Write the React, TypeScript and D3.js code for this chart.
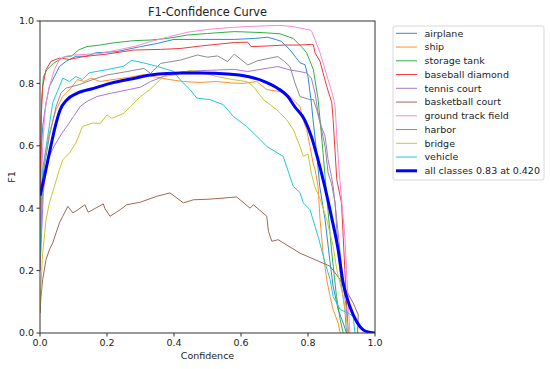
import React from "react"
import * as d3 from "d3"

type Pt = [number, number]

const classNames = [
	"airplane",
	"ship",
	"storage tank",
	"baseball diamond",
	"tennis court",
	"basketball court",
	"ground track field",
	"harbor",
	"bridge",
	"vehicle",
]
// tab10, a bit lighter like the resized reference
const classColors = ["#2f8ad0", "#ff9030", "#30b040", "#f03838", "#a678d8", "#a06858", "#f88ad4", "#8c8c8c", "#c8c830", "#20c8dc"]

const airplane: Pt[] = [[0,0.3],[0.003,0.577],[0.008,0.662],[0.018,0.737],[0.028,0.79],[0.043,0.822],[0.058,0.854],[0.078,0.871],[0.107,0.887],[0.137,0.887],[0.167,0.898],[0.23,0.902],[0.3,0.918],[0.35,0.928],[0.4,0.941],[0.48,0.941],[0.58,0.941],[0.64,0.944],[0.68,0.948],[0.706,0.94],[0.72,0.935],[0.746,0.908],[0.776,0.866],[0.791,0.86],[0.8,0.822],[0.81,0.738],[0.815,0.684],[0.826,0.577],[0.835,0.47],[0.851,0.363],[0.866,0.225],[0.875,0.15],[0.89,0.075],[0.905,0.032],[0.915,0]]
const ship: Pt[] = [[0,0.2],[0.005,0.4],[0.013,0.555],[0.028,0.641],[0.048,0.716],[0.068,0.758],[0.088,0.78],[0.112,0.812],[0.132,0.806],[0.152,0.817],[0.179,0.806],[0.229,0.814],[0.269,0.82],[0.308,0.828],[0.348,0.82],[0.388,0.812],[0.428,0.806],[0.478,0.803],[0.527,0.806],[0.577,0.801],[0.607,0.8],[0.647,0.806],[0.677,0.78],[0.716,0.774],[0.746,0.758],[0.776,0.726],[0.785,0.684],[0.796,0.652],[0.806,0.598],[0.815,0.545],[0.821,0.524],[0.83,0.47],[0.836,0.363],[0.845,0.257],[0.856,0.171],[0.866,0.117],[0.875,0.075],[0.89,0.032],[0.896,0]]
const storageTank: Pt[] = [[0,0.3],[0.005,0.747],[0.01,0.82],[0.02,0.843],[0.04,0.864],[0.07,0.884],[0.095,0.888],[0.115,0.907],[0.14,0.918],[0.18,0.923],[0.22,0.93],[0.28,0.937],[0.33,0.939],[0.38,0.944],[0.44,0.955],[0.5,0.96],[0.58,0.966],[0.66,0.963],[0.716,0.959],[0.756,0.944],[0.78,0.918],[0.796,0.898],[0.816,0.844],[0.83,0.75],[0.836,0.683],[0.845,0.577],[0.855,0.45],[0.871,0.257],[0.885,0.117],[0.896,0.043],[0.905,0]]
const baseballDiamond: Pt[] = [[0,0.4],[0.003,0.684],[0.008,0.79],[0.018,0.844],[0.033,0.871],[0.058,0.881],[0.088,0.877],[0.13,0.886],[0.2,0.894],[0.28,0.907],[0.36,0.909],[0.42,0.912],[0.48,0.92],[0.58,0.931],[0.62,0.932],[0.63,0.918],[0.68,0.92],[0.73,0.923],[0.776,0.923],[0.81,0.925],[0.816,0.924],[0.821,0.898],[0.836,0.87],[0.845,0.834],[0.856,0.79],[0.871,0.738],[0.875,0.684],[0.881,0.577],[0.886,0.491],[0.9,0.417],[0.905,0.31],[0.91,0.203],[0.915,0.096],[0.92,0]]
const tennisCourt: Pt[] = [[0,0.2],[0.01,0.45],[0.02,0.55],[0.043,0.6],[0.065,0.64],[0.08,0.662],[0.1,0.694],[0.12,0.726],[0.14,0.742],[0.17,0.758],[0.21,0.768],[0.26,0.779],[0.3,0.788],[0.33,0.806],[0.38,0.827],[0.43,0.838],[0.48,0.841],[0.53,0.843],[0.58,0.845],[0.62,0.838],[0.68,0.849],[0.71,0.854],[0.746,0.843],[0.776,0.838],[0.796,0.833],[0.81,0.817],[0.821,0.769],[0.83,0.706],[0.84,0.662],[0.851,0.63],[0.86,0.555],[0.87,0.502],[0.875,0.47],[0.886,0.363],[0.896,0.257],[0.905,0.15],[0.915,0.075],[0.92,0]]
const basketballCourt: Pt[] = [[0,0.064],[0.003,0.117],[0.008,0.171],[0.018,0.235],[0.028,0.267],[0.038,0.289],[0.048,0.321],[0.058,0.353],[0.068,0.374],[0.083,0.406],[0.098,0.385],[0.113,0.395],[0.134,0.411],[0.144,0.387],[0.189,0.414],[0.194,0.398],[0.209,0.374],[0.239,0.395],[0.259,0.411],[0.299,0.419],[0.348,0.438],[0.388,0.449],[0.428,0.417],[0.458,0.427],[0.507,0.429],[0.587,0.436],[0.627,0.4],[0.637,0.411],[0.677,0.374],[0.682,0.326],[0.692,0.294],[0.711,0.299],[0.776,0.256],[0.866,0.214],[0.896,0.171],[0.935,0.096],[0.95,0.058],[0.948,0]]
const groundTrackField: Pt[] = [[0,0.3],[0.008,0.598],[0.013,0.684],[0.018,0.737],[0.028,0.79],[0.043,0.844],[0.058,0.876],[0.078,0.887],[0.1,0.891],[0.18,0.896],[0.23,0.907],[0.28,0.918],[0.33,0.934],[0.38,0.948],[0.44,0.964],[0.5,0.973],[0.58,0.98],[0.66,0.984],[0.716,0.986],[0.756,0.982],[0.806,0.971],[0.811,0.967],[0.821,0.94],[0.836,0.898],[0.845,0.866],[0.86,0.812],[0.875,0.758],[0.881,0.726],[0.886,0.63],[0.893,0.52],[0.9,0.43],[0.91,0.31],[0.915,0.2],[0.92,0.1],[0.925,0]]
const harbor: Pt[] = [[0,0.25],[0.008,0.502],[0.028,0.63],[0.048,0.726],[0.063,0.77],[0.078,0.785],[0.117,0.796],[0.157,0.812],[0.2,0.827],[0.26,0.838],[0.31,0.848],[0.33,0.832],[0.36,0.864],[0.42,0.875],[0.47,0.891],[0.5,0.884],[0.53,0.888],[0.56,0.87],[0.58,0.894],[0.62,0.859],[0.65,0.873],[0.71,0.886],[0.73,0.87],[0.746,0.854],[0.761,0.802],[0.776,0.758],[0.806,0.748],[0.816,0.748],[0.826,0.716],[0.836,0.673],[0.851,0.598],[0.86,0.513],[0.87,0.48],[0.881,0.417],[0.89,0.257],[0.9,0.15],[0.91,0.075],[0.915,0]]
const bridge: Pt[] = [[0,0.08],[0.003,0.15],[0.008,0.257],[0.018,0.363],[0.028,0.417],[0.043,0.47],[0.058,0.524],[0.068,0.555],[0.088,0.577],[0.107,0.609],[0.127,0.662],[0.157,0.673],[0.18,0.672],[0.2,0.699],[0.214,0.688],[0.25,0.704],[0.27,0.726],[0.3,0.758],[0.328,0.78],[0.368,0.822],[0.408,0.828],[0.448,0.842],[0.487,0.834],[0.527,0.822],[0.577,0.812],[0.617,0.806],[0.637,0.79],[0.667,0.748],[0.706,0.716],[0.736,0.684],[0.756,0.652],[0.776,0.598],[0.786,0.566],[0.8,0.574],[0.81,0.512],[0.82,0.47],[0.836,0.43],[0.856,0.363],[0.875,0.278],[0.886,0.203],[0.905,0.117],[0.915,0.043],[0.92,0]]
const vehicle: Pt[] = [[0,0.25],[0.008,0.524],[0.023,0.63],[0.038,0.738],[0.058,0.79],[0.068,0.817],[0.088,0.806],[0.107,0.822],[0.127,0.812],[0.147,0.834],[0.199,0.844],[0.249,0.855],[0.274,0.874],[0.308,0.866],[0.348,0.855],[0.398,0.839],[0.418,0.812],[0.448,0.78],[0.468,0.753],[0.507,0.748],[0.547,0.732],[0.577,0.694],[0.617,0.662],[0.657,0.62],[0.677,0.598],[0.726,0.566],[0.756,0.47],[0.776,0.45],[0.786,0.417],[0.806,0.395],[0.83,0.31],[0.851,0.225],[0.866,0.171],[0.875,0.117],[0.896,0.075],[0.92,0.064],[0.935,0.053],[0.94,0]]
const allClasses: Pt[] = [[0,0.44],[0.015,0.51],[0.03,0.587],[0.045,0.66],[0.06,0.715],[0.08,0.747],[0.11,0.768],[0.16,0.784],[0.21,0.8],[0.28,0.816],[0.33,0.827],[0.38,0.832],[0.42,0.833],[0.48,0.833],[0.56,0.83],[0.62,0.822],[0.67,0.806],[0.71,0.784],[0.74,0.758],[0.76,0.726],[0.79,0.683],[0.81,0.63],[0.83,0.555],[0.85,0.47],[0.87,0.373],[0.89,0.267],[0.905,0.16],[0.925,0.085],[0.945,0.037],[0.965,0.01],[0.985,0.002],[1,0]]
const allLabel = "all classes 0.83 at 0.420"

const classSeries = [airplane, ship, storageTank, baseballDiamond, tennisCourt, basketballCourt, groundTrackField, harbor, bridge, vehicle]
const ticks = [0, 0.2, 0.4, 0.6, 0.8, 1.0]

const App = () => {
	const width = 550
	const height = 369
	const margin = { top: 21, right: 175, bottom: 36, left: 40 }
	const x = d3.scaleLinear().domain([0, 1]).range([margin.left, width - margin.right])
	const y = d3.scaleLinear().domain([0, 1]).range([height - margin.bottom, margin.top])
	const line = d3.line<Pt>().x((d) => x(d[0])).y((d) => y(d[1]))
	const smooth = d3.line<Pt>().x((d) => x(d[0])).y((d) => y(d[1])).curve(d3.curveMonotoneX)
	const font = "DejaVu Sans, sans-serif"
	const axisColor = "#333"

	// legend placement
	const lgX = 393
	const lgY = 26
	const rowH = 13.75

	return (
		<svg width={width} height={height} style={{ position: "absolute", left: 0, top: 0, fontFamily: font }}>
			<rect width={width} height={height} fill="white" />
			<defs>
				<clipPath id="plotClip">
					<rect x={x(0)} y={y(1) - 2} width={x(1) - x(0)} height={y(0) - y(1) + 2} />
				</clipPath>
			</defs>
			<g clipPath="url(#plotClip)">
				{classSeries.map((s, i) => (
					<path key={i} d={line(s) ?? ""} fill="none" stroke={classColors[i]} strokeWidth={1} />
				))}
				<path d={smooth(allClasses) ?? ""} fill="none" stroke="#0000ff" strokeWidth={3} />
			</g>
			<rect x={x(0)} y={y(1)} width={x(1) - x(0)} height={y(0) - y(1)} fill="none" stroke={axisColor} strokeWidth={1} />
			{ticks.map((t) => (
				<g key={"x" + t}>
					<line x1={x(t)} x2={x(t)} y1={y(0)} y2={y(0) + 3.5} stroke={axisColor} />
					<text x={x(t)} y={y(0) + 13} textAnchor="middle" fontSize={9.5} fill="#222">{t.toFixed(1)}</text>
				</g>
			))}
			{ticks.map((t) => (
				<g key={"y" + t}>
					<line x1={x(0) - 3.5} x2={x(0)} y1={y(t)} y2={y(t)} stroke={axisColor} />
					<text x={x(0) - 6} y={y(t) + 3.4} textAnchor="end" fontSize={9.5} fill="#222">{t.toFixed(1)}</text>
				</g>
			))}
			<text x={(x(0) + x(1)) / 2} y={359} textAnchor="middle" fontSize={9.5} fill="#222">Confidence</text>
			<text transform={`translate(15,${(y(0) + y(1)) / 2}) rotate(-90)`} textAnchor="middle" fontSize={9.5} fill="#222">F1</text>
			<text x={(x(0) + x(1)) / 2} y={16} textAnchor="middle" fontSize={11.4} fill="#222">F1-Confidence Curve</text>
			<g>
				<rect x={lgX} y={lgY} width={151} height={154} rx={2} fill="white" stroke="#d8d8d8" strokeWidth={1} />
				{classNames.map((n, i) => (
					<g key={n} transform={`translate(0,${lgY + 7.3 + i * rowH})`}>
						<line x1={396} x2={417} y1={0} y2={0} stroke={classColors[i]} strokeWidth={1} />
						<text x={424.5} y={3.4} fontSize={9.5} fill="#222">{n}</text>
					</g>
				))}
				<g transform={`translate(0,${lgY + 7.3 + 10 * rowH})`}>
					<line x1={396} x2={417} y1={0} y2={0} stroke="#0000ff" strokeWidth={3} />
					<text x={424.5} y={3.4} fontSize={9.5} fill="#222">{allLabel}</text>
				</g>
			</g>
		</svg>
	)
}

export default App
